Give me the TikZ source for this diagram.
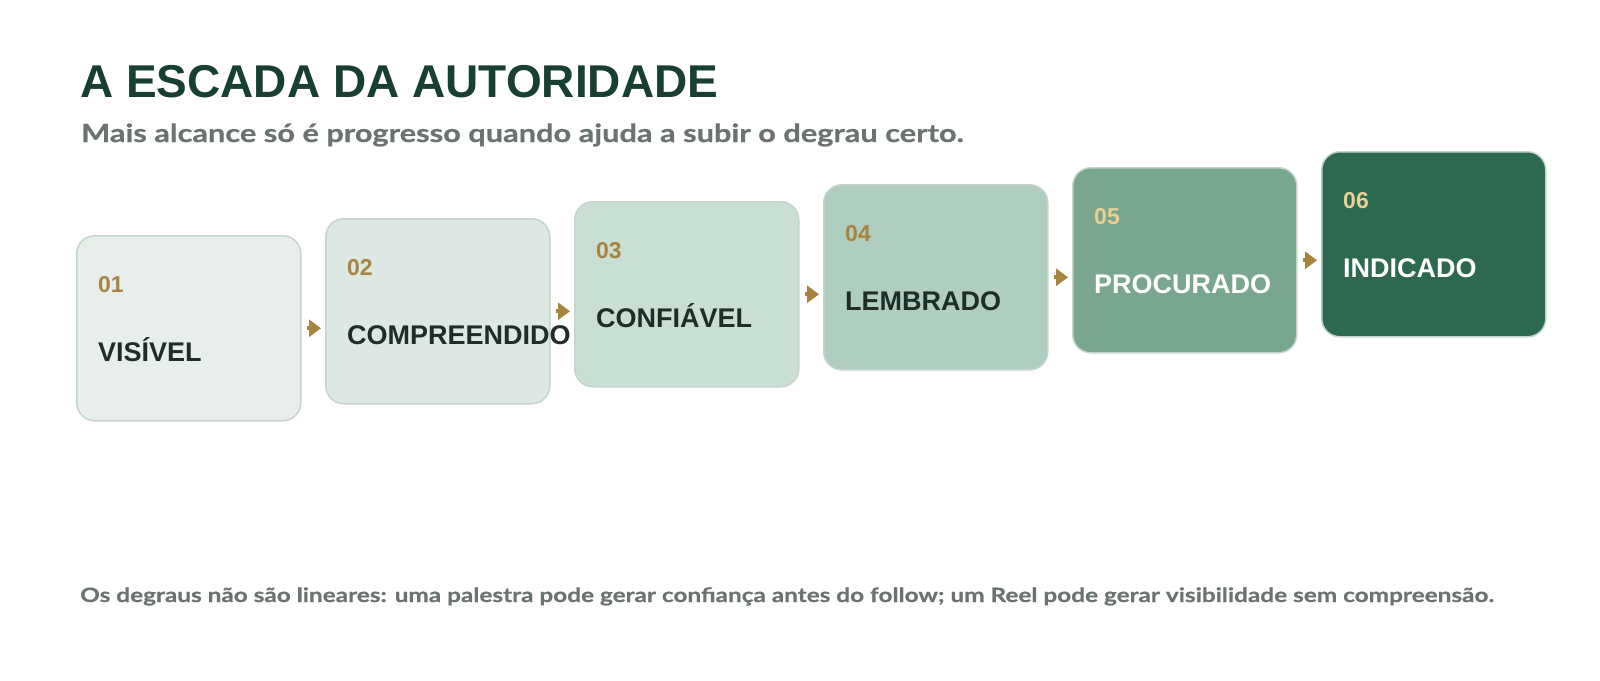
\documentclass[tikz,border=0pt]{standalone}
\usepackage{fontspec}
\setmainfont{Liberation Sans}
\newfontfamily\subfont{Lato}[FakeStretch=1.23,FakeBold=0.6]
\usetikzlibrary{arrows.meta,calc}
\definecolor{titlec}{HTML}{183F33}
\definecolor{grayc}{HTML}{6A736F}
\definecolor{edgec}{HTML}{C6D5CC}
\definecolor{cA}{HTML}{E8EFEB}
\definecolor{cB}{HTML}{DCE8E1}
\definecolor{cC}{HTML}{C9DFD4}
\definecolor{cD}{HTML}{B0CEBF}
\definecolor{cE}{HTML}{79A68E}
\definecolor{cF}{HTML}{2D6851}
\definecolor{goldc}{HTML}{A8843E}
\definecolor{lgoldc}{HTML}{EACF94}
\definecolor{darkc}{HTML}{1F2D28}
\tikzset{
  stepbox/.style={draw=edgec, line width=1.5pt, rounded corners=18pt,
    minimum width=224pt, minimum height=185pt, anchor=north west, inner sep=0pt},
  numtext/.style={anchor=base west, inner sep=0pt, font=\fontsize{23}{26}\selectfont\bfseries},
  labtext/.style={anchor=base west, inner sep=0pt, font=\fontsize{27}{30}\selectfont\bfseries},
  arr/.style={draw=goldc, line width=4pt, -{Triangle[length=12pt,width=17pt]}, fill=goldc},
}
\begin{document}
\begin{tikzpicture}[x=1pt,y=-1pt]
\useasboundingbox[fill=white] (0,0) rectangle (1600,680);
\node[anchor=base west, inner sep=0pt, text=titlec, font=\fontsize{46}{50}\selectfont\bfseries] (title) at (80,97) {A ESCADA DA AUTORIDADE};
\node[anchor=base west, inner sep=0pt, text=grayc, font=\subfont\fontsize{25}{28}\selectfont\bfseries] (sub) at (81,142) {Mais alcance só é progresso quando ajuda a subir o degrau certo.};

\foreach \i/\x/\y/\fc/\nc/\lc/\n/\lab in {
  1/76/235/cA/goldc/darkc/01/VISÍVEL,
  2/325/218/cB/goldc/darkc/02/COMPREENDIDO,
  3/574/201/cC/goldc/darkc/03/CONFIÁVEL,
  4/823/184/cD/goldc/darkc/04/LEMBRADO,
  5/1072/167/cE/lgoldc/white/05/PROCURADO,
  6/1321/151/cF/lgoldc/white/06/INDICADO}{
  \node[stepbox, fill=\fc] (b\i) at (\x,\y) {};
  \node[numtext, text=\nc] (n\i) at ($(b\i.north west)+(22,57)$) {\n};
  \node[labtext, text=\lc] (l\i) at ($(b\i.north west)+(22,126)$) {\lab};
}
\foreach \a/\b in {1/2,2/3,3/4,4/5,5/6}{
  \draw[arr] ($(b\a.east)+(5,0)$) -- ($(b\b.west|-b\a.east)+(-4,0)$);
}

\node[anchor=base west, inner sep=0pt, text=grayc, font=\subfont\fontsize{19.8}{24}\selectfont\bfseries] (foot) at (80,602) {Os degraus não são lineares: uma palestra pode gerar confiança antes do follow; um Reel pode gerar visibilidade sem compreensão.};
\end{tikzpicture}
\end{document}
